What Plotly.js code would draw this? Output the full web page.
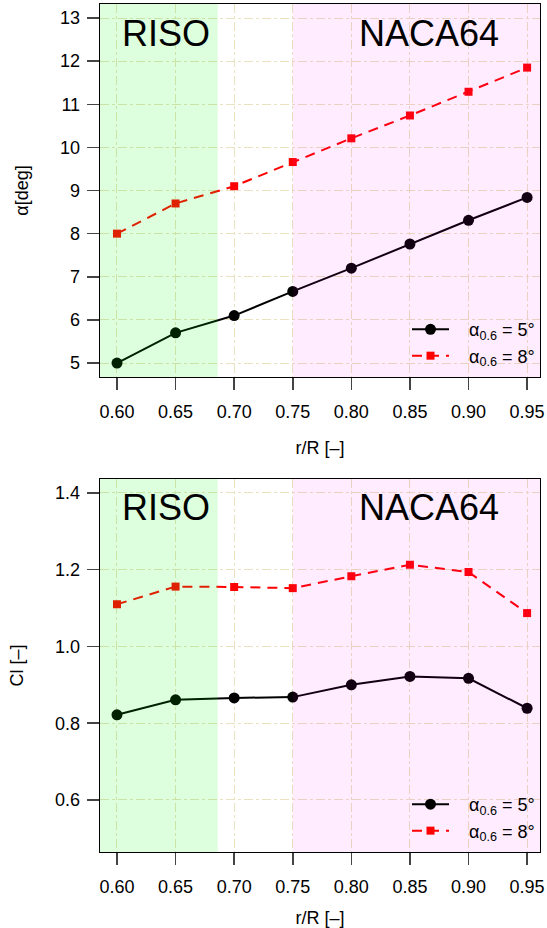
<!DOCTYPE html>
<html>
<head>
<meta charset="utf-8">
<script src="https://cdn.plot.ly/plotly-3.0.1.min.js"></script>
<style>html,body{margin:0;padding:0;background:#fff;}#chart{width:547px;height:928px;}</style>
</head>
<body>
<div id="chart"></div>
<script>
// ---- data ----
const rR = [0.60, 0.65, 0.70, 0.75, 0.80, 0.85, 0.90, 0.95];
const alpha5 = [5.00, 5.70, 6.10, 6.66, 7.20, 7.76, 8.31, 8.84];
const alpha8 = [8.00, 8.70, 9.10, 9.66, 10.21, 10.74, 11.29, 11.85];
const cl5 = [0.822, 0.861, 0.866, 0.868, 0.900, 0.922, 0.917, 0.839];
const cl8 = [1.110, 1.156, 1.155, 1.152, 1.183, 1.213, 1.194, 1.087];
const seriesNames = ['α<sub>0.6</sub> = 5°', 'α<sub>0.6</sub> = 8°'];
const xTicks = [0.60, 0.65, 0.70, 0.75, 0.80, 0.85, 0.90, 0.95];
const alphaTicks = [5, 6, 7, 8, 9, 10, 11, 12, 13];
const clTicks = [0.6, 0.8, 1.0, 1.2, 1.4];
const risoEnd = 0.686;
const nacaStart = 0.75;
const regionLabels = ['RISO', 'NACA64'];

const FONT = 'Liberation Sans, Arial, Helvetica, sans-serif';
const GRID = 'rgb(234,225,190)';
const PAD = '\u00A0\u00A0\u00A0';

function lineTrace(x, y, i, xa, ya, leg) {
  const black = i === 0;
  return {
    x: x, y: y, xaxis: xa, yaxis: ya, legend: leg,
    type: 'scatter', mode: 'lines+markers', name: PAD + seriesNames[i],
    line: black ? {color: '#000', width: 2} : {color: '#ff0000', width: 2, dash: '10px,7px'},
    marker: black ? {symbol: 'circle', size: 11, color: '#000'} : {symbol: 'square', size: 8, color: '#ff0000'},
    cliponaxis: false
  };
}

const data = [
  lineTrace(rR, alpha5, 0, 'x', 'y', 'legend'),
  lineTrace(rR, alpha8, 1, 'x', 'y', 'legend'),
  lineTrace(rR, cl5, 0, 'x2', 'y2', 'legend2'),
  lineTrace(rR, cl8, 1, 'x2', 'y2', 'legend2')
];

function xAxis(anchor) {
  return {
    anchor: anchor, range: [0.5855, 0.961], tickvals: xTicks, tickformat: '.2f',
    ticks: 'outside', ticklen: 12, tickwidth: 1.5, tickcolor: '#444',
    ticklabelstandoff: 6,
    showline: true, linecolor: '#000', linewidth: 1.3, mirror: true,
    showgrid: true, gridcolor: GRID, griddash: 'dashdot', gridwidth: 1,
    zeroline: false,
    tickfont: {family: FONT, size: 18, color: '#000'},
    title: {text: 'r/R [–]', font: {family: FONT, size: 18, color: '#000'}, standoff: 20}
  };
}
function yAxis(anchor, domain, range, ticks, fmt, title) {
  return {
    anchor: anchor, domain: domain, range: range, tickvals: ticks, tickformat: fmt,
    ticks: 'outside', ticklen: 12, tickwidth: 1.5, tickcolor: '#444',
    ticklabelstandoff: 3,
    showline: true, linecolor: '#000', linewidth: 1.3, mirror: true,
    showgrid: true, gridcolor: GRID, griddash: 'dashdot', gridwidth: 1,
    zeroline: false,
    tickfont: {family: FONT, size: 18, color: '#000'},
    title: {text: title, font: {family: FONT, size: 18, color: '#000'}, standoff: 26}
  };
}

function regionShapes(xr, yr) {
  return [
    {type: 'rect', layer: 'above', xref: xr, yref: yr + ' domain', x0: 0.5855, x1: risoEnd, y0: 0, y1: 1,
     fillcolor: 'rgba(0,255,0,0.13)', line: {width: 0}},
    {type: 'rect', layer: 'above', xref: xr, yref: yr + ' domain', x0: nacaStart, x1: 0.961, y0: 0, y1: 1,
     fillcolor: 'rgba(255,0,255,0.07)', line: {width: 0}}
  ];
}

function regionAnn(xr, yr) {
  return [
    {xref: xr, yref: yr + ' domain', x: 0.6414, y: 1, yshift: -29, yanchor: 'middle', xanchor: 'center',
     text: regionLabels[0], showarrow: false, font: {family: FONT, size: 36, color: '#000'}},
    {xref: xr, yref: yr + ' domain', x: 0.8666, y: 1, yshift: -29, yanchor: 'middle', xanchor: 'center',
     text: regionLabels[1], showarrow: false, font: {family: FONT, size: 36, color: '#000'}}
  ];
}

const legendBase = {
  xref: 'paper', yref: 'paper', xanchor: 'right', yanchor: 'bottom', x: 1.0,
  bgcolor: 'rgba(0,0,0,0)', borderwidth: 0, itemwidth: 37, tracegroupgap: 0,
  font: {family: FONT, size: 18, color: '#000'}
};

const layout = {
  width: 547, height: 928,
  margin: {l: 100, r: 7, t: 4, b: 76},
  paper_bgcolor: '#fff', plot_bgcolor: '#fff',
  font: {family: FONT, color: '#000'},
  xaxis: xAxis('y'),
  yaxis: yAxis('x', [0.5601, 1], [4.675, 13.325], alphaTicks, 'd', 'α[deg]'),
  xaxis2: xAxis('y2'),
  yaxis2: yAxis('x2', [0, 0.4399], [0.4644, 1.4365], clTicks, '.1f', 'Cl [–]'),
  shapes: regionShapes('x', 'y').concat(regionShapes('x2', 'y2')),
  annotations: regionAnn('x', 'y').concat(regionAnn('x2', 'y2')),
  legend: Object.assign({}, legendBase, {y: 0.5636}),
  legend2: Object.assign({}, legendBase, {y: 0.0035}),
  showlegend: true
};

Plotly.newPlot('chart', data, layout, {staticPlot: true, displayModeBar: false});
</script>
</body>
</html>
